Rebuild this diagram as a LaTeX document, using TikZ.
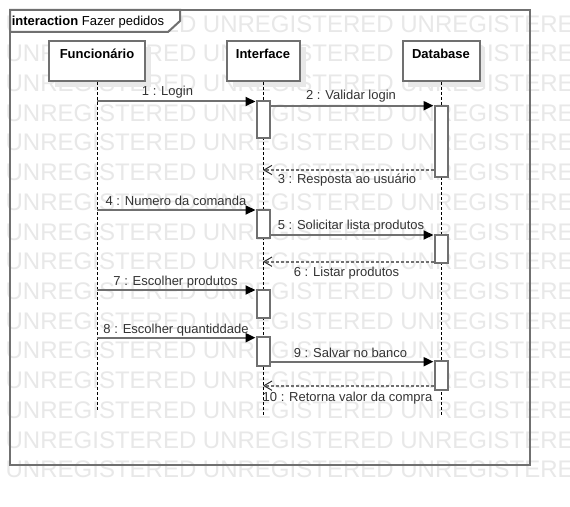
\documentclass[tikz,border=0pt]{standalone}
\usepackage{fontspec}
\setmainfont{Liberation Sans}
\usetikzlibrary{arrows.meta}
\definecolor{wm}{RGB}{232,232,232}
\definecolor{ln}{RGB}{112,112,112}
\definecolor{tx}{RGB}{51,51,51}
\definecolor{shd}{RGB}{232,232,232}
\begin{document}
\begin{tikzpicture}[x=0.75pt,y=-0.75pt,
  wmtext/.style={anchor=base west, inner sep=0pt, font=\fontsize{18pt}{18pt}\selectfont, text=wm},
  lbl/.style={anchor=base, inner sep=0pt, font=\fontsize{9.75pt}{11pt}\selectfont, text=tx},
  ttl/.style={anchor=base, inner sep=0pt, font=\fontsize{9.75pt}{11pt}\selectfont\bfseries, text=black},
  lifebox/.style={draw=ln, line width=1.5pt, fill=white, minimum height=30pt, inner sep=0pt},
  shadowbox/.style={fill=shd, draw=none},
  actbar/.style={draw=ln, line width=1.5pt, fill=white, minimum width=9.75pt, inner sep=0pt},
  msg/.style={draw=ln, line width=1.5pt, -{Triangle[length=7.5pt,width=6.75pt,color=black]}},
  ret/.style={draw=ln, line width=1.5pt, dash pattern=on 2.25pt off 1.5pt, -{Straight Barb[length=6pt,width=7pt,line width=0.75pt,color=tx]}},
  lifeline/.style={draw=black, line width=0.75pt, dash pattern=on 2.25pt off 1.5pt},
  framebox/.style={draw=ln, line width=1.5pt}
]
\useasboundingbox (0,0) rectangle (570,506);
\fill[white] (0,0) rectangle (570,506);
% watermark
\foreach \k in {0,...,15}
  \node[wmtext] (wm\k) at (5.4,{32.2+29.7*\k}) {UNREGISTERED UNREGISTERED UNREGISTERED};
% frame
\draw[framebox] (10,10) rectangle (530,465);
\draw[framebox, fill=white] (10,10) -- (180,10) -- (180,21) -- (168,32) -- (10,32) -- cycle;
\node[anchor=base west, inner sep=0pt, font=\fontsize{9.75pt}{11pt}\selectfont] (frametitle) at (11.5,26) {\textbf{interaction} Fazer pedidos};
% lifeline heads with shadows
\fill[shadowbox] (55,47) rectangle (151,87);
\fill[shadowbox] (232.5,47) rectangle (305.5,87);
\fill[shadowbox] (408,47) rectangle (485,87);
\node[lifebox, minimum width=72pt] (F) at (97,61) {};
\node[lifebox, minimum width=54.75pt] (I) at (263,61) {};
\node[lifebox, minimum width=57.75pt] (D) at (441,61) {};
\node[ttl] (Ft) at (97,59) {Funcionário};
\node[ttl] (It) at (263,59) {Interface};
\node[ttl] (Dt) at (441,59) {Database};
% lifelines
\coordinate (Fend) at (97,410);
\coordinate (Iend) at (263,415);
\coordinate (Dend) at (441,415);
\draw[lifeline] (F.south) -- (Fend);
\draw[lifeline] (I.south) -- (Iend);
\draw[lifeline] (D.south) -- (Dend);
% activation bars
\node[actbar, minimum height=27.75pt] (I1) at (263,119.5) {};
\node[actbar, minimum height=53.6pt] (D1) at (441,141.3) {};
\node[actbar, minimum height=21pt] (I2) at (263,223.5) {};
\node[actbar, minimum height=21pt] (D2) at (441,248.5) {};
\node[actbar, minimum height=21pt] (I3) at (263,303.5) {};
\node[actbar, minimum height=21.4pt] (I4) at (263,351.7) {};
\node[actbar, minimum height=21.4pt] (D3) at (441,375.7) {};
% messages
\draw[msg] (F.south |- 0,101.5) -- (I1.west |- 0,101.5);
\draw[msg] (I1.east |- 0,105.7) -- (D1.west |- 0,105.7);
\draw[ret] (D1.west |- 0,170) -- (I.south |- 0,170);
\draw[msg] (F.south |- 0,210) -- (I2.west |- 0,210);
\draw[msg] (I2.east |- 0,235) -- (D2.west |- 0,235);
\draw[ret] (D2.west |- 0,261.7) -- (I.south |- 0,261.7);
\draw[msg] (F.south |- 0,290) -- (I3.west |- 0,290);
\draw[msg] (F.south |- 0,337.7) -- (I4.west |- 0,337.7);
\draw[msg] (I4.east |- 0,361.7) -- (D3.west |- 0,361.7);
\draw[ret] (D3.west |- 0,385.7) -- (I.south |- 0,385.7);
% labels
\node[lbl] (l1) at (167.5,96) {1 : Login};
\node[lbl] (l2) at (351,100) {2 : Validar login};
\node[lbl] (l3) at (347,183.5) {3 : Resposta ao usuário};
\node[lbl] (l4) at (176,205) {4 : Numero da comanda};
\node[lbl] (l5) at (351,229.5) {5 : Solicitar lista produtos};
\node[lbl] (l6) at (346.5,276.7) {6 : Listar produtos};
\node[lbl] (l7) at (175.5,285) {7 : Escolher produtos};
\node[lbl] (l8) at (176,333) {8 : Escolher quantiddade};
\node[lbl] (l9) at (350.5,357) {9 : Salvar no banco};
\node[lbl] (l10) at (347.5,401) {10 : Retorna valor da compra};
\end{tikzpicture}
\end{document}
